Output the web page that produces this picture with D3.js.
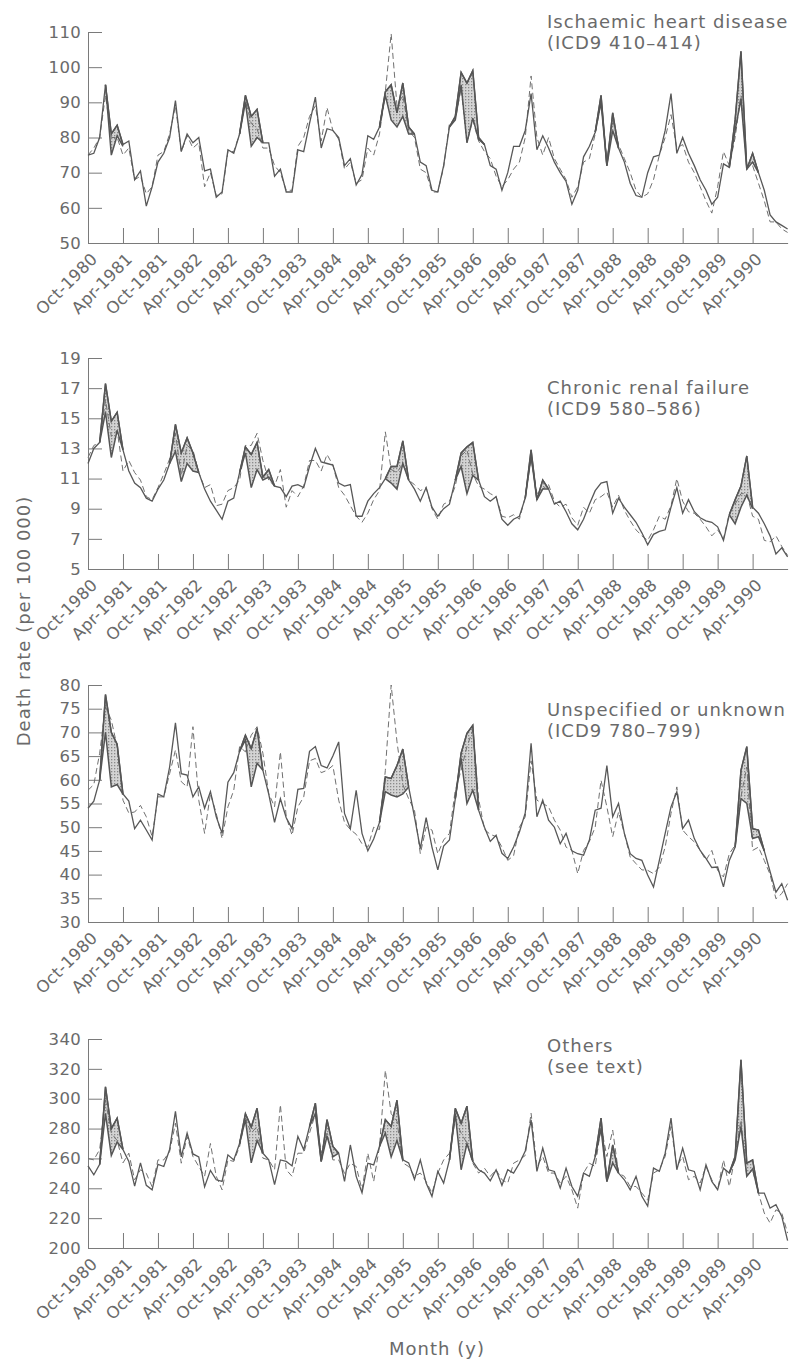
<!DOCTYPE html>
<html>
<head>
<meta charset="utf-8">
<script src="https://d3js.org/d3.v7.min.js"></script>
<style>
  body { margin: 0; background: #fff; }
  svg { font-family: 'DejaVu Sans', sans-serif; }
  .axis path, .axis line { stroke: #7a7a7a; stroke-width: 1; }
  .axis text { fill: #6a6a6a; font-size: 16.5px; letter-spacing: 0.3px; font-family: 'DejaVu Sans', sans-serif; }
  .title { fill: #6a6a6a; font-size: 18px; letter-spacing: 1px; }
  .obs { fill: none; stroke: #585858; stroke-width: 1.3; }
  .exp { fill: none; stroke: #707070; stroke-width: 1; stroke-dasharray: 6,3.5; }
  .edge { fill: none; stroke: #555; stroke-width: 1.5; }
</style>
</head>
<body>
<svg id="chart" width="795" height="1361"></svg>
<script>
// tick labels along the month axis, one every 6 months from Oct-1980
const monthLabels = ["Oct-1980","Apr-1981","Oct-1981","Apr-1982","Oct-1982","Apr-1983","Oct-1983",
  "Apr-1984","Oct-1984","Apr-1985","Oct-1985","Apr-1986","Oct-1986","Apr-1987","Oct-1987",
  "Apr-1988","Oct-1988","Apr-1989","Oct-1989","Apr-1990"];

// y ticks for each panel
const ihdTicks = [50, 60, 70, 80, 90, 100, 110];
const crfTicks = [5, 7, 9, 11, 13, 15, 17, 19];
const unkTicks = [30, 35, 40, 45, 50, 55, 60, 65, 70, 75, 80];
const othTicks = [200, 220, 240, 260, 280, 300, 320, 340];

// monthly death rates, Oct-1980 .. Oct-1990 (solid = observed, dashed = second series)
const ihdObs = [75, 75.5, 80, 95, 81, 83.5, 78, 79, 68, 70.5,
  60.5, 66, 73, 75.5, 80, 90.5, 76, 81, 78.5, 80,
  70.5, 71, 63, 64.5, 76.5, 75.5, 81, 92, 86, 88,
  78.5, 78.5, 69, 71, 64.5, 64.5, 76.5, 76, 84, 91.5,
  77, 82.5, 82, 80, 72, 74, 66.5, 69.5, 80.5, 79.5,
  83, 93, 95, 87, 95.5, 83, 81, 73, 72, 65,
  64.5, 72, 83, 86, 98.5, 95.5, 99, 80, 78, 72,
  71, 65, 70, 77.5, 77.5, 82, 92.5, 76.5, 80.5, 77,
  73, 70, 67.5, 61, 65, 74.5, 77.5, 81.5, 92, 72,
  87, 77, 73, 67, 63.5, 63, 70, 74.5, 75, 82,
  92.5, 75.5, 80, 75.5, 72, 68, 65, 61, 63, 72.5,
  71.5, 85, 104.5, 71, 75.5, 70, 65, 58, 56, 55, 54];
const ihdExp = [75, 77, 80, 92, 80, 80, 75, 77, 68, 69,
  64, 66, 75, 76, 81, 89, 76, 80.5, 77, 78.5,
  66, 70, 63.5, 64, 76, 76, 81, 90.5, 84, 82.5,
  77, 77, 72, 70, 65, 65, 77.5, 80, 86, 89,
  79, 88.5, 82, 79.5, 71, 73, 67, 68, 77, 75,
  81, 93, 109.5, 89, 92, 82, 80, 71, 70, 64.5,
  64.5, 71.5, 84, 85, 94, 78.5, 85, 79, 76, 74,
  69, 66, 68, 71, 73, 80, 97.5, 80, 75, 80,
  74, 71, 68, 63, 66, 73, 74, 81, 90, 73,
  85, 78, 74, 70, 65, 63, 64, 68, 75, 80,
  86.5, 77, 78, 73, 70, 66, 62, 58.5, 66, 76,
  72, 80, 92, 72, 72, 67, 62, 56, 56, 54, 53];
// [month, lower edge] of the shaded bands, null between bands
const ihdShade = [[3, 95], [4, 75], [5, 80.5], [6, 77.5], null,
  [26, 81], [27, 90], [28, 77.5], [29, 80], [30, 78.5], null,
  [50, 83], [51, 92], [52, 85], [53, 83], [54, 86], [55, 81], [56, 81], null,
  [62, 83], [63, 85], [64, 95], [65, 78.5], [66, 85.5], [67, 79.5], [68, 78], null,
  [87, 81.5], [88, 90], [89, 72], [90, 82], [91, 77], null,
  [110, 71.5], [111, 82], [112, 91], [113, 71], [114, 73], [115, 70]];

const crfObs = [12.0, 13.0, 13.4, 17.3, 14.8, 15.4, 12.9, 11.5, 10.7, 10.4,
  9.7, 9.5, 10.3, 10.9, 12.0, 14.6, 12.7, 13.7, 12.7, 11.4,
  10.3, 9.5, 8.9, 8.3, 9.5, 9.7, 11.4, 13.1, 12.6, 13.4,
  11.1, 11.6, 10.5, 10.4, 9.8, 10.5, 10.6, 10.4, 11.8, 13.0,
  12.1, 12.0, 11.9, 10.7, 10.5, 10.6, 8.5, 8.5, 9.5, 10.0,
  10.4, 11.0, 11.8, 11.8, 13.5, 10.9, 10.3, 9.5, 10.4, 9.1,
  8.5, 9.0, 9.3, 10.9, 12.7, 13.1, 13.4, 10.9, 9.8, 9.5,
  9.8, 8.3, 7.9, 8.3, 8.5, 9.7, 12.9, 9.6, 10.9, 10.3,
  9.3, 9.5, 8.8, 8.0, 7.6, 8.3, 9.3, 10.2, 10.7, 10.8,
  8.7, 9.7, 9.1, 8.6, 8.1, 7.4, 6.6, 7.3, 7.5, 7.6,
  9.1, 10.4, 8.7, 9.6, 8.8, 8.4, 8.2, 8.1, 7.8, 6.9,
  8.6, 9.6, 10.5, 12.5, 9.1, 8.7, 8.0, 7.2, 6.0, 6.4, 5.8];
const crfExp = [12.4, 13.2, 13.4, 16.2, 13.8, 14.2, 11.5, 12.2, 11.4, 10.9,
  9.8, 9.6, 10.4, 11.3, 12.3, 14.0, 11.2, 13.2, 12.9, 11.4,
  10.4, 10.6, 9.2, 9.3, 10.2, 10.4, 10.9, 13.2, 13.2, 14.0,
  12.2, 10.9, 10.5, 11.6, 9.1, 10.2, 9.8, 10.5, 12.2, 12.2,
  11.5, 12.6, 11.9, 10.4, 9.9, 9.2, 8.5, 8.1, 8.7, 9.6,
  10.2, 14.1, 11.6, 11.4, 12.0, 10.9, 10.6, 10.2, 10.4, 9.0,
  8.3, 9.3, 9.5, 10.5, 12.5, 12.9, 11.3, 10.5, 10.3, 10.0,
  9.8, 8.5, 8.4, 8.6, 8.3, 9.8, 12.3, 10.0, 10.3, 10.6,
  9.5, 9.1, 9.3, 8.4, 7.9, 9.1, 8.7, 9.6, 9.8, 10.1,
  9.1, 9.9, 8.9, 8.2, 7.6, 7.2, 6.9, 7.6, 8.5, 8.3,
  9.2, 11.0, 9.5, 8.8, 8.7, 8.3, 7.8, 7.2, 7.6, 7.0,
  8.7, 9.3, 10.0, 10.0, 8.5, 8.3, 6.9, 6.8, 7.2, 6.5, 5.9];
const crfShade = [[2, 13.4], [3, 15.4], [4, 12.4], [5, 14.2], [6, 12.9], null,
  [14, 12.0], [15, 12.8], [16, 10.8], [17, 12], [18, 11.5], [19, 11.4], null,
  [26, 11.4], [27, 12.7], [28, 10.4], [29, 11.6], [30, 10.9], [31, 11.1], [32, 10.5], null,
  [51, 11], [52, 10.7], [53, 10.3], [54, 12], [55, 10.9], null,
  [63, 10.9], [64, 11.8], [65, 10], [66, 11.2], [67, 10.9], null,
  [75, 9.7], [76, 12.5], [77, 9.6], [78, 10.3], [79, 10.3], null,
  [110, 8.6], [111, 8], [112, 9.1], [113, 9.9], [114, 9]];

const unkObs = [54, 55.5, 60, 78, 70, 67.5, 57, 55.5, 49.7, 51.5,
  49.4, 47.3, 57, 56.4, 62.7, 72, 61.3, 61, 56.4, 58.5,
  54, 57.5, 52.2, 48.7, 59.5, 61.5, 66, 69.4, 66.6, 70.8,
  62, 57, 51, 56, 52, 49.7, 58, 58.2, 66, 67,
  63, 62.5, 65, 68, 52.9, 49.7, 57.8, 48.7, 45, 47.5,
  51, 60.6, 60.3, 63, 66.5, 58.5, 52.2, 45.5, 52, 45.8,
  41, 46, 47.3, 56, 65.6, 69.8, 71.5, 53.6, 50, 47,
  48.3, 44.5, 43.4, 45.8, 49, 53, 67.7, 52.2, 55.7, 51.5,
  50, 46.5, 48.7, 45, 44.4, 44.1, 47.3, 53.6, 54, 63,
  52.2, 55, 48.7, 44.4, 43.4, 43, 39.9, 37.4, 43, 48.7,
  54.3, 57.5, 49.7, 51.5, 47.6, 45.1, 43.4, 41.5, 41.6, 37.4,
  43, 45.8, 62, 67, 49.7, 49.4, 45, 40.6, 36.3, 38.1, 34.6];
const unkExp = [57.8, 59, 65.6, 75.4, 72.6, 67, 55.7, 53, 53.2, 54.6,
  52.2, 48, 56.4, 56.4, 61.3, 66.3, 59.6, 58.5, 71.2, 55.7,
  48.7, 57.1, 52.9, 47.6, 54.3, 57.8, 67, 65.9, 69.4, 71.2,
  65.6, 57.1, 54.3, 65.9, 52.2, 48.3, 54.3, 56.4, 64, 64.5,
  61.5, 62, 63, 55.7, 51, 49.5, 48.5, 46.5, 45.8, 50,
  49.5, 62, 80, 68, 59, 56, 53.6, 44.4, 50, 49.4,
  44.4, 47.3, 48.7, 57.8, 62, 67, 70.5, 56, 49.5, 48.5,
  48, 45.8, 43, 44, 50, 52.2, 64, 55.7, 55, 54.3,
  51.5, 49.4, 45.8, 45.1, 40.2, 45.1, 47, 50, 59.9, 54.3,
  48, 53.2, 48.7, 43.7, 42.3, 41, 40.9, 40.2, 41.6, 45.8,
  52.9, 58.5, 49.4, 48, 46.9, 45.1, 43, 45.1, 40.9, 39.5,
  44.4, 46.2, 56.4, 62.7, 45.1, 45.8, 43, 40, 34.9, 36, 38.1];
const unkShade = [[2, 60], [3, 70], [4, 58.5], [5, 59], [6, 57], null,
  [26, 66], [27, 68.4], [28, 58.5], [29, 63.5], [30, 62], null,
  [50, 51], [51, 57.5], [52, 56.8], [53, 56.4], [54, 57], [55, 58.5], null,
  [63, 56], [64, 64.5], [65, 55], [66, 57.8], [67, 53.6], null,
  [111, 45.8], [112, 56], [113, 55], [114, 47.6], [115, 48], [116, 45]];

const othObs = [255, 249, 256, 308, 280, 287, 266, 258, 241.5, 257,
  242, 239, 256, 254.6, 266, 291.5, 261, 277, 263, 261,
  241, 252, 245.7, 244.6, 262.4, 259, 270, 290, 281, 293.6,
  263.5, 259, 242.4, 259, 258, 255, 274.7, 265.8, 281.4, 297,
  258, 286, 268, 263.5, 244.6, 269, 248, 237, 256.8, 255.7,
  268, 286, 281.4, 299, 259, 257, 246, 259, 243.5, 234.6,
  251.3, 243.5, 259, 293.6, 283.6, 295, 258, 252.4, 250.2, 245,
  252.4, 242, 252.4, 250.2, 256.8, 265, 285.8, 251.3, 266.9, 252.4,
  251.3, 240.1, 253.5, 241.2, 234.6, 250.2, 248, 261.3, 287, 244.6,
  269, 250.2, 245.7, 239, 248, 234.6, 228, 253.5, 251.3, 263.5,
  287, 252.4, 266.9, 252.4, 251.3, 239, 255.7, 244.6, 239, 253.5,
  250.2, 261.3, 326, 256.8, 259, 236.8, 236.8, 226.7, 229, 221.2, 205];
const othExp = [260, 259, 266, 299, 277, 272, 257, 263.5, 245.7, 252.4,
  250, 241, 259, 259, 264.6, 283.6, 256.8, 274.7, 261.3, 254.6,
  248, 270, 248, 239, 259, 258, 268, 287, 277, 281.4,
  260.2, 259, 252.4, 296, 252.4, 248, 263.5, 263.5, 277, 290,
  263.5, 277, 259, 259, 250, 256.8, 254.6, 239, 263.5, 244.6,
  268, 319, 290, 285, 257, 254.6, 248, 250.2, 244.6, 236.8,
  250.2, 259, 263.5, 285.8, 277, 270.2, 256.8, 250.2, 253.5, 248,
  252.4, 245.7, 243.5, 256.8, 259, 262, 290.3, 254.6, 261.3, 250.2,
  250.2, 243.5, 248, 239, 226.7, 250.2, 256.8, 254.6, 281.4, 261.3,
  279, 250.2, 248, 241.2, 241.2, 236.8, 232, 250.2, 252.4, 261.3,
  281.4, 254.6, 261.3, 245.7, 248, 243.5, 254.6, 245.7, 239, 259,
  241.2, 261.3, 285.8, 248, 252.4, 236.8, 223.4, 216.7, 225.6, 223.4, 210];
const othShade = [[2, 256], [3, 290], [4, 262], [5, 271], [6, 266], null,
  [26, 270], [27, 286], [28, 257], [29, 272], [30, 263.5], null,
  [38, 281.4], [39, 290], [40, 258], [41, 275], [42, 261], [43, 263.5], null,
  [50, 268], [51, 277], [52, 261], [53, 272], [54, 259], null,
  [62, 259], [63, 290], [64, 252.4], [65, 270], [66, 258], null,
  [87, 261.3], [88, 280], [89, 244.6], [90, 257], [91, 250.2], null,
  [110, 250.2], [111, 259], [112, 281.4], [113, 248], [114, 253], [115, 236.8]];

const panels = [
  { title: ["Ischaemic heart disease", "(ICD9 410–414)"], obs: ihdObs, exp: ihdExp, shade: ihdShade,
    ticks: ihdTicks, top: 32, bottom: 243, titleY: 27.5 },
  { title: ["Chronic renal failure", "(ICD9 580–586)"], obs: crfObs, exp: crfExp, shade: crfShade,
    ticks: crfTicks, top: 358, bottom: 569, titleY: 394 },
  { title: ["Unspecified or unknown", "(ICD9 780–799)"], obs: unkObs, exp: unkExp, shade: unkShade,
    ticks: unkTicks, top: 685, bottom: 922, titleY: 716 },
  { title: ["Others", "(see text)"], obs: othObs, exp: othExp, shade: othShade,
    ticks: othTicks, top: 1039, bottom: 1248, titleY: 1052 }
];

const svg = d3.select("#chart");
const left = 88, right = 787.6;

// stipple for the shaded bands
const pat = svg.append("defs").append("pattern")
  .attr("id", "stip").attr("width", 3).attr("height", 3)
  .attr("patternUnits", "userSpaceOnUse");
pat.append("rect").attr("width", 3).attr("height", 3).attr("fill", "#d4d4d4");
pat.append("rect").attr("width", 1.3).attr("height", 1.3).attr("fill", "#8a8a8a");

const x = d3.scaleLinear().domain([0, 120]).range([left, right]);

panels.forEach(p => {
  const y = d3.scaleLinear()
    .domain([p.ticks[0], p.ticks[p.ticks.length - 1]])
    .range([p.bottom, p.top]);
  const g = svg.append("g");

  // y axis, ticks pointing into the plot
  g.append("g")
    .attr("class", "axis")
    .attr("transform", `translate(${left},0)`)
    .call(d3.axisLeft(y).tickValues(p.ticks).tickSize(-14).tickSizeOuter(0).tickPadding(7));

  // x axis, ticks pointing up, labels slanted
  g.append("g")
    .attr("class", "axis")
    .attr("transform", `translate(0,${p.bottom})`)
    .call(d3.axisBottom(x)
      .tickValues(monthLabels.map((d, i) => i * 6))
      .tickFormat((d, i) => monthLabels[i])
      .tickSize(-15).tickSizeOuter(0))
    .selectAll("text")
    .attr("x", 0).attr("y", 0).attr("dy", 0)
    .attr("transform", "translate(10,17) rotate(-45)")
    .style("text-anchor", "end");

  g.selectAll(".domain").attr("stroke", "#7a7a7a");

  // shaded bands between solid line and lower edge
  const area = d3.area()
    .defined(d => d !== null)
    .x(d => x(d[0]))
    .y0(d => y(d[1]))
    .y1(d => y(p.obs[d[0]]));
  g.append("path").datum(p.shade).attr("d", area).attr("fill", "url(#stip)");

  g.append("path").datum(p.exp).attr("class", "exp")
    .attr("d", d3.line().x((d, i) => x(i)).y(d => y(d)));
  g.append("path").datum(p.obs).attr("class", "obs")
    .attr("d", d3.line().x((d, i) => x(i)).y(d => y(d)));

  // heavier edges round the bands
  g.append("path").datum(p.shade).attr("class", "edge")
    .attr("d", d3.line().defined(d => d !== null).x(d => x(d[0])).y(d => y(d[1])));
  g.append("path").datum(p.shade).attr("class", "edge")
    .attr("d", d3.line().defined(d => d !== null).x(d => x(d[0])).y(d => y(p.obs[d[0]])));

  // panel title
  g.append("text").attr("class", "title").attr("x", 547).attr("y", p.titleY).text(p.title[0]);
  g.append("text").attr("class", "title").attr("x", 547).attr("y", p.titleY + 21).text(p.title[1]);
});

svg.append("text")
  .attr("class", "title")
  .attr("transform", "translate(30,621) rotate(-90)")
  .attr("text-anchor", "middle")
  .text("Death rate (per 100 000)");

svg.append("text")
  .attr("class", "title")
  .attr("x", 437).attr("y", 1355)
  .attr("text-anchor", "middle")
  .text("Month (y)");
</script>
</body>
</html>
